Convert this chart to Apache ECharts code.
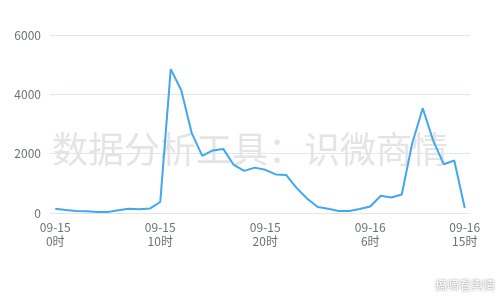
<!DOCTYPE html>
<html><head><meta charset="utf-8">
<script src="https://cdn.jsdelivr.net/npm/echarts@6/dist/echarts.min.js"></script>
<style>html,body{margin:0;padding:0;background:#fff}#c{width:500px;height:300px}</style>
</head><body><div id="c"></div>
<script>
const days = ['09-15','09-15','09-15','09-15','09-15','09-15','09-15','09-15','09-15','09-15',
 '09-15','09-15','09-15','09-15','09-15','09-15','09-15','09-15','09-15','09-15',
 '09-15','09-15','09-15','09-15','09-16','09-16','09-16','09-16','09-16','09-16',
 '09-16','09-16','09-16','09-16','09-16','09-16','09-16','09-16','09-16','09-16'];
const hours = [0,1,2,3,4,5,6,7,8,9,10,11,12,13,14,15,16,17,18,19,20,21,22,23,
 0,1,2,3,4,5,6,7,8,9,10,11,12,13,14,15];
const values = [145,100,70,60,30,35,90,140,130,150,370,4850,4140,2690,1925,2110,2160,1620,1420,1530,
 1455,1300,1280,840,480,200,145,65,70,135,220,580,525,625,2350,3530,2430,1645,1770,170];
const shownLabels = [0,10,20,30,39];
const yTicks = [0,2000,4000,6000];
const categories = days.map((d,i)=>d+'\n'+hours[i]+'时');
const FONT = 'Noto Sans CJK SC';
const chart = echarts.init(document.getElementById('c'));
chart.setOption({
  animation:false,
  textStyle:{fontFamily:FONT},
  grid:{left:50,right:30,top:35,bottom:87},
  graphic:[
    {type:'text',left:'center',top:131,z:-10,silent:true,
     style:{text:'数据分析工具：识微商情',fontSize:36,fill:'#e4e4e4',fontFamily:FONT}},
    {type:'text',right:5,bottom:9,silent:true,
     style:{text:'搞嘀看舆情',fontSize:12,fill:'#ffffff',fontFamily:FONT,
            textShadowColor:'rgba(0,0,0,0.55)',textShadowBlur:2}}
  ],
  xAxis:{type:'category',data:categories,boundaryGap:true,
    axisLine:{lineStyle:{color:'#e0e6f1'}},axisTick:{show:false},
    axisLabel:{color:'#6e7079',fontSize:12,lineHeight:14,margin:7,fontFamily:FONT,
      interval:(i)=>shownLabels.includes(i)}},
  yAxis:{type:'value',min:yTicks[0],max:yTicks[yTicks.length-1],interval:2000,
    splitLine:{lineStyle:{color:'#e0e6f1'}},
    axisLabel:{color:'#6e7079',fontSize:12,margin:9,fontFamily:FONT,formatter:(v)=>String(v)}},
  series:[{type:'line',data:values,showSymbol:false,
    lineStyle:{color:'#41a7ee',width:2},itemStyle:{color:'#41a7ee'}}]
});
</script></body></html>
